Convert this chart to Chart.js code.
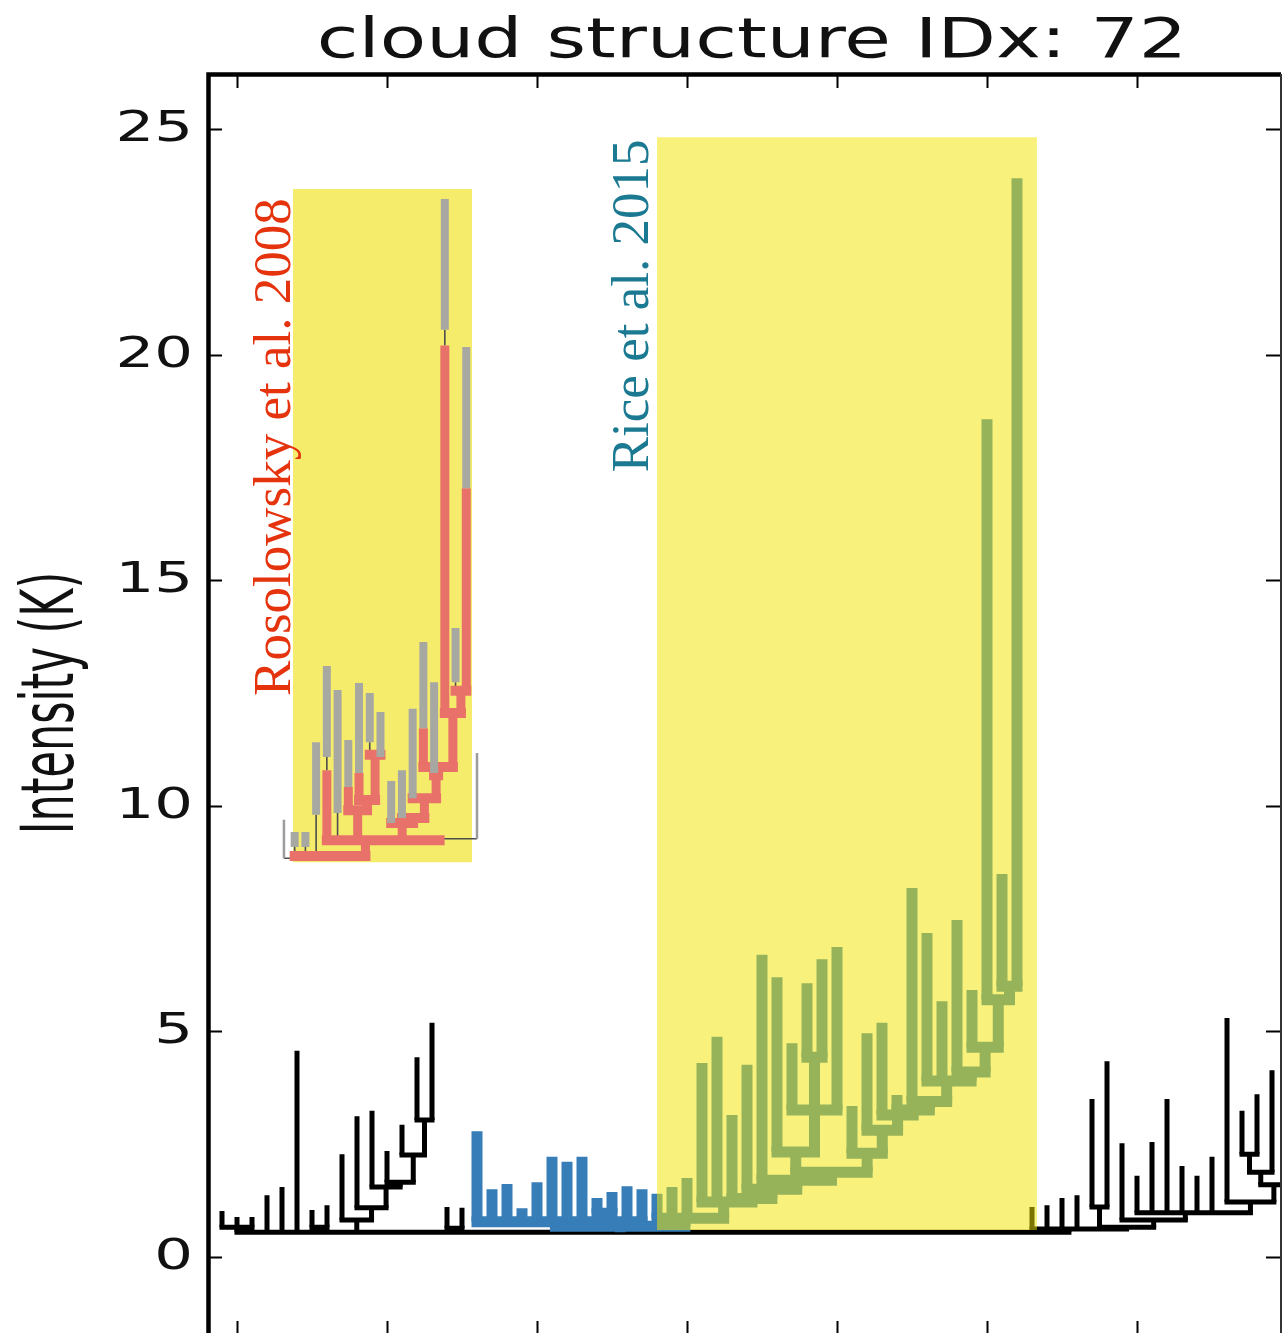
<!DOCTYPE html>
<html>
<head>
<meta charset="utf-8">
<title>cloud structure IDx: 72</title>
<script src="https://cdn.jsdelivr.net/npm/chart.js@4.4.1/dist/chart.umd.min.js"></script>
<style>
  html, body { margin: 0; padding: 0; background: #ffffff; overflow: hidden; }
  #wrap { position: relative; width: 1285px; height: 1345px; }
</style>
</head>
<body>
<div id="wrap"><canvas id="chart" width="1285" height="1345"></canvas></div>
<script>
// ---------------------------------------------------------------------------
// Dendrogram of cloud structure 72. Leaf n sits at x = n; peaks in K.
// ---------------------------------------------------------------------------
const titleText = 'cloud structure IDx: 72';
const yLabelText = 'Intensity (K)';
const yTickValues = [0, 5, 10, 15, 20, 25];
const xTickValues = [2, 12, 22, 32, 42, 52, 62];

// leaf peak intensities, leaves 1-17 (black, left)
const leftPeaks = [1.02, 0.89, 0.89, 1.37, 1.55, 4.57, 1.04, 1.15, 2.28, 3.12, 3.24, 2.35, 2.93, 4.43, 5.19, 1.11, 1.09];
// leaves 18-30 (blue structure, outside the highlighted region)
const bluePeaks = [2.79, 1.50, 1.62, 1.08, 1.66, 2.22, 2.11, 2.22, 1.31, 1.44, 1.57, 1.50, 1.40];
// leaves 31-54 (blue structure, Rice et al. 2015 region)
const ricePeaks = [1.55, 1.75, 4.30, 4.88, 3.15, 4.26, 6.70, 6.20, 4.74, 6.07, 6.60, 6.87, 3.35, 4.96, 5.19, 3.59, 8.18, 7.18, 5.67, 7.47, 5.92, 18.57, 8.49, 23.91];
// leaves 55-72 (black, right)
const rightPeaks = [1.11, 1.15, 1.31, 1.37, 3.50, 4.34, 2.52, 1.80, 2.55, 3.50, 2.02, 1.80, 2.22, 5.30, 3.24, 3.61, 4.14, 4.60];

// branches: [name, merge level (K), children]; numbers are leaves, strings are branches
const leftBranches = [
  ['a1', 0.66, [1, 2, 3]],
  ['a2', 0.66, [7, 8]],
  ['m1', 3.04, [14, 15]],
  ['m2', 2.26, [13, 'm1']],
  ['m3', 1.66, [12, 'm2']],
  ['m4', 1.55, [11, 'm3']],
  ['m5', 1.09, [10, 'm4']],
  ['m6', 0.82, [9, 'm5']],
  ['a3', 0.64, [16, 17]]
];
const blueBranches = [
  ['u1', 0.97, [26, 27]],
  ['u2', 0.78, [18, 19, 20, 21, 22, 23, 24, 25, 'u1', 28, 29]],
  ['r1', 6.00, [53, 54]],
  ['r2', 5.70, [52, 'r1']],
  ['r3', 4.65, [51, 'r2']],
  ['r4', 4.10, [50, 'r3']],
  ['r5', 3.90, [48, 49, 'r4']],
  ['r6', 3.45, [47, 'r5']],
  ['r7', 3.26, [46, 'r6']],
  ['r8', 3.15, [45, 'r7']],
  ['r9', 2.81, [44, 'r8']],
  ['r10', 2.30, [43, 'r9']],
  ['g1', 4.43, [40, 41]],
  ['g2', 3.26, [39, 'g1', 42]],
  ['g3', 2.33, [38, 'g2']],
  ['g4', 1.88, ['g3', 'r10']],
  ['g5', 1.70, [37, 'g4']],
  ['g6', 1.50, [36, 'g5']],
  ['g7', 1.30, [35, 'g6']],
  ['g8', 1.22, [33, 34, 'g7']],
  ['g9', 0.86, [30, 31, 32, 'g8']],
  ['blue', 0.68, ['u2', 'g9']]
];
const rightBranches = [
  ['q1', 2.28, [69, 70]],
  ['q2', 1.88, ['q1', 71]],
  ['q3', 1.60, ['q2', 72]],
  ['q4', 1.22, [68, 'q3']],
  ['q5', 0.98, [62, 63, 64, 65, 66, 67, 'q4']],
  ['q6', 0.82, [61, 'q5']],
  ['q7', 1.11, [59, 60]],
  ['q8', 0.66, ['q7', 'q6']],
  ['q9', 0.62, [55, 56, 57, 58, 'q8']]
];
const trunkBranches = [
  ['trunk', 0.55, ['a1', 4, 5, 6, 'a2', 'm6', 'a3', 'blue', 'q9']]
];

// highlighted regions: [x0, x1, y0, y1]
const riceBox = [30.0, 55.33, 0.60, 24.82];
const rosBox = [5.73, 17.67, 8.75, 23.67];

// Rosolowsky et al. (2008) dendrogram inset, leaves 0-18
const insetPeaks = [9.69, 9.42, 9.42, 11.41, 13.10, 12.57, 11.46, 12.72, 12.50, 12.08, 10.55, 10.79, 12.15, 13.63, 12.74, 23.45, 13.94, 20.17, 11.17];
const insetBases = [9.69, 9.09, 9.09, 9.80, 11.08, 9.84, 10.42, 10.73, 11.41, 11.08, 9.62, 9.73, 10.17, 11.72, 10.73, 20.55, 12.74, 17.04, 11.17];
const insetThinLeaves = [0, 18];
const insetBranches = [
  ['A1', 20.20, [15]],
  ['A2', 19.00, ['A1']],
  ['Q1', 17.04, [17]],
  ['Q2', 12.55, [16, 'Q1']],
  ['P3', 12.06, ['A2', 'Q2']],
  ['B13', 11.72, [13]],
  ['P4', 10.86, ['B13', 'P3']],
  ['P5', 10.68, [14, 'P4']],
  ['P6', 10.17, [12, 'P5']],
  ['P7', 9.73, [11, 'P6']],
  ['P8', 9.62, [10, 'P7']],
  ['G1', 11.13, [8, 9]],
  ['B7', 10.73, [7]],
  ['G2', 10.13, ['B7', 'G1']],
  ['B6', 10.42, [6]],
  ['G3', 9.90, ['B6', 'G2']],
  ['B4', 10.79, [4]],
  ['X', 9.27, ['P8', 18], 'thin'],
  ['BIG', 9.24, ['B4', 5, 'G3', 'X']],
  ['R1', 8.89, [1, 2, 3, 'BIG']],
  ['ROOT', 8.84, [0, 'R1'], 'thin']
];
const insetX0 = 5.13;
const insetStep = 0.715;

// ---------------------------------------------------------------------------
// Build line segments from the trees
// ---------------------------------------------------------------------------
const leafPeaks = [...leftPeaks, ...bluePeaks, ...ricePeaks, ...rightPeaks];

function makeTree(branches, leafX, leafTop) {
  const nodes = new Map(branches.map(b => [b[0], { level: b[1], kids: b[2], style: b[3] }]));
  const cache = new Map();
  function posX(c) {
    if (typeof c === 'number') return leafX(c);
    if (cache.has(c)) return cache.get(c);
    const kids = nodes.get(c).kids;
    const v = kids.reduce((s, k) => s + posX(k), 0) / kids.length;
    cache.set(c, v);
    return v;
  }
  function top(c) { return typeof c === 'number' ? leafTop(c) : nodes.get(c).level; }
  return { nodes, posX, top };
}

function addSeg(arr, x0, y0, x1, y1) {
  arr.push({ x: x0, y: y0 }, { x: x1, y: y1 }, { x: x1, y: null });
}

// main dendrogram
const mainBranches = [...leftBranches, ...blueBranches, ...rightBranches, ...trunkBranches];
const main = makeTree(mainBranches, n => n, n => leafPeaks[n - 1]);
const blueSet = new Set();
(function mark(c) {
  blueSet.add(c);
  if (typeof c !== 'number') main.nodes.get(c).kids.forEach(mark);
})('blue');

const blackH = [], blackV = [], blueH = [], blueV = [];
for (const [name, level, kids] of mainBranches) {
  const xs = kids.map(main.posX);
  if (kids.length > 1) {
    addSeg(blueSet.has(name) ? blueH : blackH, Math.min(...xs), level, Math.max(...xs), level);
  }
  kids.forEach((c, i) => addSeg(blueSet.has(c) ? blueV : blackV, xs[i], level, xs[i], main.top(c)));
}

// inset dendrogram
const inset = makeTree(insetBranches, k => insetX0 + k * insetStep, k => insetPeaks[k]);
const iGray = [], iGrayThin = [], iThin = [], iRedV = [], iRedH = [];
for (const [name, level, kids, style] of insetBranches) {
  const xs = kids.map(inset.posX);
  if (kids.length > 1) {
    addSeg(style === 'thin' ? iThin : iRedH, Math.min(...xs), level, Math.max(...xs), level);
  }
  kids.forEach((c, i) => {
    const x = xs[i];
    if (typeof c === 'number') {
      if (insetThinLeaves.includes(c)) {
        addSeg(iGrayThin, x, level, x, insetPeaks[c]);
      } else {
        addSeg(iGray, x, insetBases[c], x, insetPeaks[c]);
        if (insetBases[c] > level) addSeg(iThin, x, level, x, insetBases[c]);
      }
    } else {
      const childThin = inset.nodes.get(c).style === 'thin';
      addSeg(childThin ? iThin : iRedV, x, level, x, inset.top(c));
    }
  });
}

// ---------------------------------------------------------------------------
// Chart
// ---------------------------------------------------------------------------
function lineSet(data, color, width, cap, order) {
  return {
    type: 'line', data, order,
    borderColor: color, borderWidth: width, borderCapStyle: cap, borderJoinStyle: 'miter',
    pointRadius: 0, pointHoverRadius: 0, tension: 0, fill: false, spanGaps: false
  };
}
function boxSet(box, color, order) {
  return {
    type: 'line', order,
    data: [{ x: box[0], y: box[3] }, { x: box[1], y: box[3] }],
    fill: { value: box[2] }, backgroundColor: color,
    borderColor: 'rgba(0,0,0,0)', borderWidth: 0, pointRadius: 0, tension: 0
  };
}

function drawText(ctx, text, x, y, opt) {
  ctx.save();
  ctx.translate(x, y);
  if (opt.rotate) ctx.rotate(opt.rotate);
  ctx.scale(opt.sx || 1, opt.sy || 1);
  ctx.font = opt.font;
  ctx.fillStyle = opt.color || '#000';
  ctx.textAlign = opt.align || 'center';
  ctx.textBaseline = opt.baseline || 'alphabetic';
  ctx.fillText(text, 0, 0);
  ctx.restore();
}

const frameAndText = {
  id: 'frameAndText',
  afterDraw(chart) {
    const { ctx, chartArea: a, scales: { x, y } } = chart;
    ctx.save();
    ctx.strokeStyle = '#000';
    ctx.lineCap = 'butt';

    // tick marks, pointing inward on all four sides
    ctx.lineWidth = 2;
    ctx.beginPath();
    for (const v of yTickValues) {
      const py = Math.round(y.getPixelForValue(v)) + 0.5;
      ctx.moveTo(a.left, py); ctx.lineTo(a.left + 15, py);
      ctx.moveTo(a.right - 15, py); ctx.lineTo(a.right, py);
    }
    for (const v of xTickValues) {
      const px = Math.round(x.getPixelForValue(v)) + 0.5;
      ctx.moveTo(px, a.top); ctx.lineTo(px, a.top + 14);
      ctx.moveTo(px, a.bottom - 15); ctx.lineTo(px, a.bottom);
    }
    ctx.stroke();

    // spines
    ctx.lineWidth = 4.5;
    ctx.beginPath();
    ctx.moveTo(a.left + 1.5, a.bottom + 10);
    ctx.lineTo(a.left + 1.5, a.top + 0.5);
    ctx.lineTo(a.right, a.top + 0.5);
    ctx.stroke();
    ctx.lineWidth = 2;
    ctx.strokeStyle = '#333';
    ctx.beginPath();
    ctx.moveTo(a.right, a.top);
    ctx.lineTo(a.right, a.bottom + 10);
    ctx.stroke();
    ctx.restore();

    // tick labels
    for (const v of yTickValues) {
      drawText(ctx, String(v), 193, y.getPixelForValue(v) + 12,
        { font: '42px "DejaVu Sans"', sx: 1.45, align: 'right', color: '#111' });
    }
    // title
    drawText(ctx, titleText, 752, 57, { font: '55px "DejaVu Sans"', sx: 1.38, color: '#111' });
    // axis label
    drawText(ctx, yLabelText, 54, 703,
      { font: '43px "DejaVu Sans"', rotate: -Math.PI / 2, sy: 1.7, baseline: 'middle', color: '#111' });
    // references
    drawText(ctx, 'Rosolowsky et al. 2008', x.getPixelForValue(5.53), y.getPixelForValue(17.95),
      { font: '53px "Liberation Serif"', rotate: -Math.PI / 2, color: '#e5330e' });
    drawText(ctx, 'Rice et al. 2015', x.getPixelForValue(29.4), y.getPixelForValue(21.08),
      { font: '53px "Liberation Serif"', rotate: -Math.PI / 2, color: '#1b7a92' });
  }
};

new Chart(document.getElementById('chart'), {
  type: 'line',
  data: {
    datasets: [
      lineSet(blackH, '#000000', 5, 'square', 100),
      lineSet(blackV, '#000000', 5, 'butt', 99),
      lineSet(blueH, '#377eb8', 11, 'square', 90),
      lineSet(blueV, '#377eb8', 11, 'butt', 89),
      boxSet(riceBox, 'rgba(241,229,0,0.51)', 80),
      boxSet(rosBox, '#f5ec6c', 70),
      lineSet(iThin, '#4d4d4d', 1.6, 'butt', 60),
      lineSet(iGrayThin, '#9c9c9c', 2.5, 'butt', 59),
      lineSet(iRedV, '#e8716a', 9, 'butt', 52),
      lineSet(iRedH, '#e8716a', 10, 'square', 51),
      lineSet(iGray, '#a8a8a2', 8, 'butt', 50)
    ]
  },
  options: {
    responsive: false,
    devicePixelRatio: 1,
    animation: false,
    events: [],
    layout: { padding: { left: 207, top: 74, right: 4, bottom: 9 } },
    scales: {
      x: { type: 'linear', min: 0, max: 71.6, display: false },
      y: { type: 'linear', min: -1.75, max: 26.22, display: false }
    },
    plugins: { legend: { display: false }, tooltip: { enabled: false } }
  },
  plugins: [frameAndText]
});
</script>
</body>
</html>
